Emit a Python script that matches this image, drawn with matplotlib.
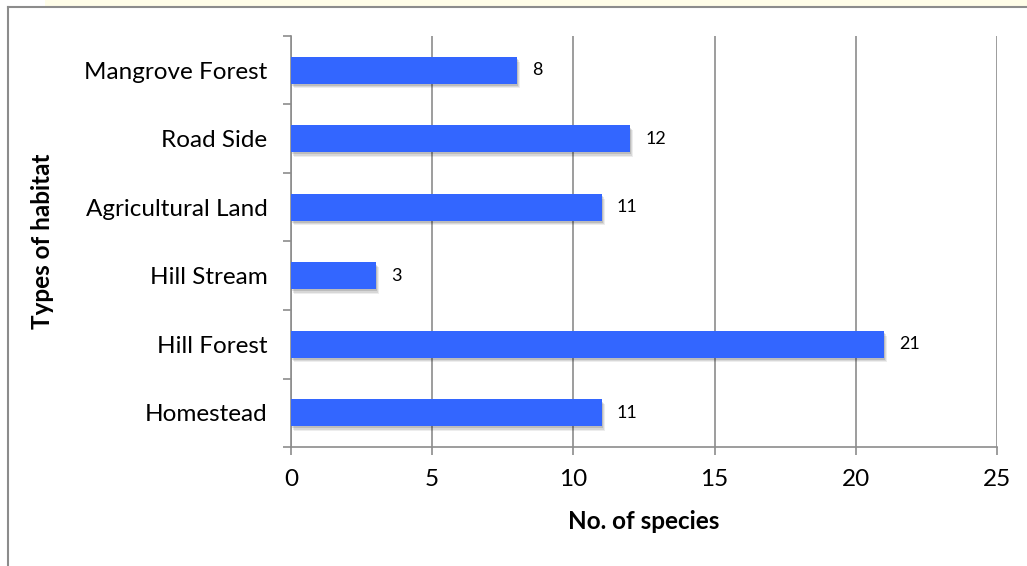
import matplotlib
matplotlib.use("Agg")
import matplotlib.pyplot as plt
import matplotlib.patheffects as pe
from matplotlib.lines import Line2D
import numpy as np

habitats = ["Homestead", "Hill Forest", "Hill Stream", "Agricultural Land", "Road Side", "Mangrove Forest"]
species = [11, 21, 3, 11, 12, 8]
x_ticks = [0, 5, 10, 15, 20, 25]

plt.rcParams['font.family'] = ['Lato', 'DejaVu Sans']
fig = plt.figure(figsize=(10.27, 5.66), dpi=100)
ax = fig.add_axes([291/1027, 1-447/566, (997-291)/1027, (447-36)/566])

grey = "#8c8c8c"
y = np.arange(len(habitats))
bars = ax.barh(y, species, height=0.39, color="#3366FF", zorder=3)
shadow = [pe.SimplePatchShadow(offset=(o, -o * 1.6), shadow_rgbFace="#000000", alpha=a)
          for o, a in [(2.2, 0.07), (1.6, 0.09), (1.0, 0.12)]]
for b in bars:
    b.set_path_effects(shadow + [pe.Normal()])

for yi, v in zip(y, species):
    ax.annotate(str(v), (v, yi), xytext=(11, 0), textcoords="offset points",
                va="center", ha="left", fontsize=13, color="black")

ax.set_xlim(0, 25)
ax.set_ylim(-0.5, len(habitats) - 0.5)
ax.set_xticks(x_ticks)
ax.set_xticklabels([str(t) for t in x_ticks], fontsize=17.5)
ax.set_yticks(y)
ax.set_yticklabels(habitats, fontsize=17.5)
ax.set_yticks(np.arange(-0.5, len(habitats)), minor=True)
ax.tick_params(axis="y", which="major", length=0, pad=17)
ax.tick_params(axis="y", which="minor", length=6, width=1.2, color=grey)
ax.tick_params(axis="x", which="major", length=6, width=1.2, color=grey, pad=10)

ax.xaxis.grid(True, color=grey, linewidth=1.2, zorder=0)
ax.set_axisbelow(True)
for s in ["top", "right"]:
    ax.spines[s].set_visible(False)
for s in ["left", "bottom"]:
    ax.spines[s].set_color(grey)
    ax.spines[s].set_linewidth(1.2)

ax.set_xlabel("No. of species", fontsize=17.5, fontweight="bold", labelpad=14)
ax.set_ylabel("Types of habitat", fontsize=17.5, fontweight="bold", labelpad=22)

# frame lines and top strip
fig.patches.append(plt.Rectangle((45/1027, 1-7/566), 1, 7/566, transform=fig.transFigure,
                                 facecolor="#FFFDE8", edgecolor="none", zorder=0))
fig.add_artist(Line2D([8/1027, 1], [1-7/566, 1-7/566], transform=fig.transFigure, color=grey, linewidth=1.5))
fig.add_artist(Line2D([8/1027, 8/1027], [0, 1-7/566], transform=fig.transFigure, color=grey, linewidth=1.5))

fig.savefig("out.png", dpi=100)
